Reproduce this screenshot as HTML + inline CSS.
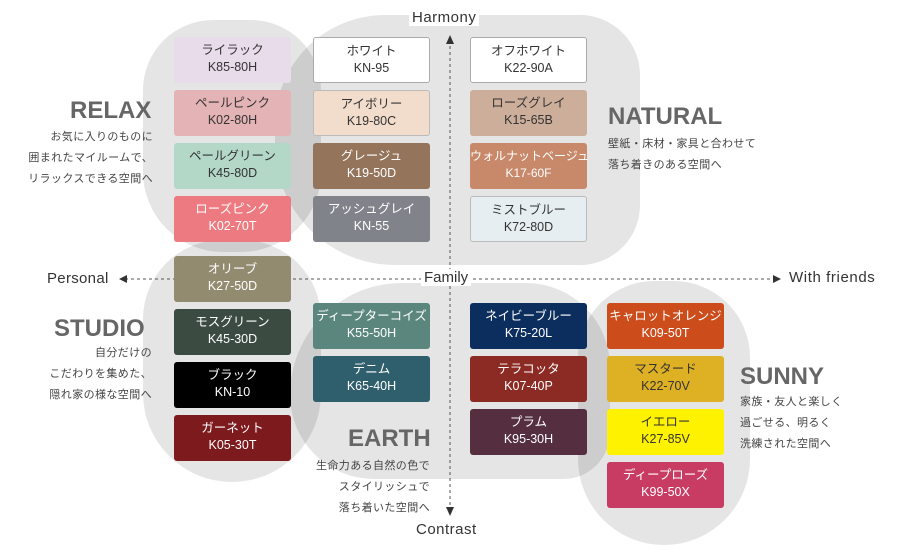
<!DOCTYPE html>
<html><head><meta charset="utf-8"><style>
body{margin:0;width:900px;height:555px;background:#fff;position:relative;overflow:hidden;font-family:"Liberation Sans","Noto Sans CJK JP",sans-serif;}
.b{position:absolute;background:rgba(0,0,0,0.1);}
.s{position:absolute;width:117px;height:46px;border-radius:3px;text-align:center;font-size:12.5px;line-height:17px;box-sizing:border-box;padding-top:5px;color:#fff;letter-spacing:0;white-space:nowrap;}
.t{position:absolute;font-weight:bold;font-size:24px;color:#666;}
.d{position:absolute;font-size:11px;line-height:21px;color:#444;letter-spacing:0.4px;}
.ax{position:absolute;font-size:15px;color:#333;background:#fff;padding:0 3px;}
</style></head><body>
<div class="b" style="left:143px;top:20px;width:178px;height:232px;border-radius:70px 70px 80px 80px"></div>
<div class="b" style="left:275px;top:15px;width:365px;height:250px;border-radius:110px 60px 60px 120px"></div>
<div class="b" style="left:143px;top:240px;width:178px;height:242px;border-radius:80px 80px 90px 90px"></div>
<div class="b" style="left:290px;top:283px;width:320px;height:196px;border-radius:120px 90px 50px 90px"></div>
<div class="b" style="left:578px;top:281px;width:172px;height:264px;border-radius:80px 80px 90px 90px"></div>

<svg style="position:absolute;left:0;top:0" width="900" height="555">
<line x1="450" y1="40" x2="450" y2="515" stroke="#555" stroke-dasharray="3,3"/>
<polygon points="446,44 454,44 450,35" fill="#333"/>
<polygon points="446,507 454,507 450,516" fill="#333"/>
<line x1="125" y1="279" x2="775" y2="279" stroke="#555" stroke-dasharray="3,3"/>
<polygon points="119,279 127,275 127,283" fill="#333"/>
<polygon points="781,279 773,275 773,283" fill="#333"/>
</svg>
<div class="ax" style="left:409px;top:9px;letter-spacing:0.5px">Harmony</div>
<div class="ax" style="left:413px;top:521px;letter-spacing:0.5px">Contrast</div>
<div class="ax" style="left:47px;top:270px;padding:0;letter-spacing:0.3px">Personal</div>
<div class="ax" style="left:786px;top:269px;letter-spacing:0.6px">With friends</div>
<div class="ax" style="left:421px;top:269px">Family</div>

<div class="s" style="left:174px;top:37px;background:#e8dbea;color:#333">ライラック<br>K85-80H</div>
<div class="s" style="left:174px;top:90px;background:#e3b3b5;color:#333">ペールピンク<br>K02-80H</div>
<div class="s" style="left:174px;top:143px;background:#b3d8c8;color:#333">ペールグリーン<br>K45-80D</div>
<div class="s" style="left:174px;top:196px;background:#ec7a80">ローズピンク<br>K02-70T</div>
<div class="s" style="left:174px;top:256px;background:#928b70">オリーブ<br>K27-50D</div>
<div class="s" style="left:174px;top:309px;background:#3b4b42">モスグリーン<br>K45-30D</div>
<div class="s" style="left:174px;top:362px;background:#000">ブラック<br>KN-10</div>
<div class="s" style="left:174px;top:415px;background:#7d1a1d">ガーネット<br>K05-30T</div>

<div class="s" style="left:313px;top:37px;background:#fff;color:#333;border:1px solid #aaa">ホワイト<br>KN-95</div>
<div class="s" style="left:313px;top:90px;background:#f2dccb;color:#333;border:1px solid #bbb">アイボリー<br>K19-80C</div>
<div class="s" style="left:313px;top:143px;background:#94745a">グレージュ<br>K19-50D</div>
<div class="s" style="left:313px;top:196px;background:#80838a">アッシュグレイ<br>KN-55</div>
<div class="s" style="left:313px;top:303px;background:#5b867d">ディープターコイズ<br>K55-50H</div>
<div class="s" style="left:313px;top:356px;background:#2f5e6c">デニム<br>K65-40H</div>

<div class="s" style="left:470px;top:37px;background:#fff;color:#333;border:1px solid #aaa">オフホワイト<br>K22-90A</div>
<div class="s" style="left:470px;top:90px;background:#cdae9a;color:#333">ローズグレイ<br>K15-65B</div>
<div class="s" style="left:470px;top:143px;background:#c8896a;font-size:12px">ウォルナットベージュ<br>K17-60F</div>
<div class="s" style="left:470px;top:196px;background:#e6eef2;color:#333;border:1px solid #bbb">ミストブルー<br>K72-80D</div>
<div class="s" style="left:470px;top:303px;background:#0c2e5e">ネイビーブルー<br>K75-20L</div>
<div class="s" style="left:470px;top:356px;background:#8c2a24">テラコッタ<br>K07-40P</div>
<div class="s" style="left:470px;top:409px;background:#552e40">プラム<br>K95-30H</div>

<div class="s" style="left:607px;top:303px;background:#cc4c1c">キャロットオレンジ<br>K09-50T</div>
<div class="s" style="left:607px;top:356px;background:#deb024;color:#333">マスタード<br>K22-70V</div>
<div class="s" style="left:607px;top:409px;background:#fff200;color:#333">イエロー<br>K27-85V</div>
<div class="s" style="left:607px;top:462px;background:#c83c64">ディープローズ<br>K99-50X</div>

<div class="t" style="left:70px;top:97px">RELAX</div>
<div class="d" style="right:747px;top:127px;text-align:right">お気に入りのものに<br>囲まれたマイルームで、<br>リラックスできる空間へ</div>
<div class="t" style="left:608px;top:103px">NATURAL</div>
<div class="d" style="left:608px;top:134px">壁紙・床材・家具と合わせて<br>落ち着きのある空間へ</div>
<div class="t" style="left:54px;top:315px">STUDIO</div>
<div class="d" style="right:748px;top:343px;text-align:right">自分だけの<br>こだわりを集めた、<br>隠れ家の様な空間へ</div>
<div class="t" style="left:348px;top:425px">EARTH</div>
<div class="d" style="right:470px;top:456px;text-align:right">生命力ある自然の色で<br>スタイリッシュで<br>落ち着いた空間へ</div>
<div class="t" style="left:740px;top:363px">SUNNY</div>
<div class="d" style="left:740px;top:392px">家族・友人と楽しく<br>過ごせる、明るく<br>洗練された空間へ</div>
</body></html>
